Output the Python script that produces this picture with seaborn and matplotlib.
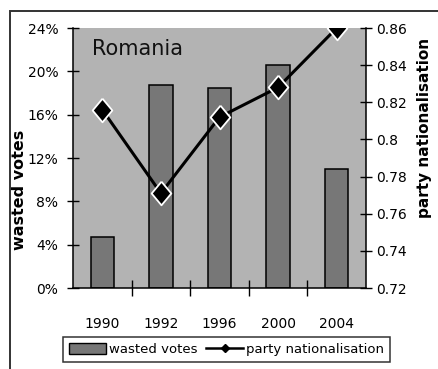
import numpy as np
import pandas as pd
import matplotlib
matplotlib.use("Agg")
import matplotlib.pyplot as plt
from matplotlib.patches import Patch, Rectangle
from matplotlib.lines import Line2D
import seaborn as sns

# Election years and the two indicators
years = ["1990", "1992", "1996", "2000", "2004"]
wasted_votes = [4.7, 18.7, 18.5, 20.6, 11.0]          # percent
party_nationalisation = [0.816, 0.771, 0.812, 0.828, 0.860]

left_ticks = [0, 4, 8, 12, 16, 20, 24]
right_ticks = [0.72, 0.74, 0.76, 0.78, 0.80, 0.82, 0.84, 0.86]

df = pd.DataFrame({"year": years,
                   "wasted": wasted_votes,
                   "nat": party_nationalisation})
df["pos"] = np.arange(len(df))

plot_bg = "#b3b3b3"
bar_color = "#777777"

W, H = 439, 369
fig = plt.figure(figsize=(W / 100, H / 100), dpi=100)
fig.patch.set_facecolor("white")

ax = fig.add_axes([73 / W, 1 - 288 / H, 293 / W, 260 / H])
ax.set_facecolor(plot_bg)

sns.barplot(data=df, x="year", y="wasted", ax=ax, color=bar_color,
            saturation=1, width=0.4, edgecolor="black", linewidth=1.1)
ax.set_xlim(-0.5, len(years) - 0.5)
ax.set_ylim(left_ticks[0], left_ticks[-1])
ax.set_yticks(left_ticks, labels=[f"{v}%" for v in left_ticks])
ax.set_xlabel("")
ax.set_ylabel("")

# category labels sit between the boundary ticks
ax.set_xticks(np.arange(len(years) - 1) + 0.5, labels=[])
ax.set_xticks(np.arange(len(years)), labels=years, minor=True)
ax.tick_params(axis="x", which="major", direction="inout", length=11,
               width=1, color="black")
ax.tick_params(axis="x", which="minor", length=0, pad=21, labelsize=10)
ax.tick_params(axis="y", direction="inout", length=9, width=1,
               pad=6, labelsize=10)

for side in ["left", "bottom"]:
    ax.spines[side].set_color("black")
    ax.spines[side].set_linewidth(1.1)
ax.spines["top"].set_visible(False)
ax.spines["right"].set_visible(False)

ax2 = ax.twinx()
diamond = [(0, 1.2), (1, 0), (0, -1.2), (-1, 0), (0, 1.2)]
sns.lineplot(data=df, x="pos", y="nat", ax=ax2, color="black",
             linewidth=2.2, marker=diamond, markersize=17,
             markerfacecolor="black", markeredgecolor="white",
             markeredgewidth=1.3, sort=False)
ax2.set_xlim(-0.5, len(years) - 0.5)
ax2.set_ylim(right_ticks[0], right_ticks[-1])
ax2.set_yticks(right_ticks, labels=[f"{v:g}" for v in right_ticks])
ax2.set_xlabel("")
ax2.set_ylabel("")
ax2.tick_params(axis="y", direction="inout", length=8, width=1,
                pad=3, labelsize=10)
ax2.spines["top"].set_visible(False)
ax2.spines["left"].set_visible(False)
ax2.spines["bottom"].set_visible(False)
ax2.spines["right"].set_color("black")
ax2.spines["right"].set_linewidth(1.1)

ax.text(0.065, 0.896, "Romania", transform=ax.transAxes, fontsize=15,
        ha="left", va="baseline", color="#111111")

fig.text(20 / W, 1 - 190 / H, "wasted votes", rotation=90, ha="center",
         va="center", fontsize=11.5, fontweight="bold")
fig.text(425 / W, 1 - 128 / H, "party nationalisation", rotation=90,
         ha="center", va="center", fontsize=11, fontweight="bold")

handles = [Patch(facecolor=bar_color, edgecolor="black", linewidth=1),
           Line2D([], [], color="black", linewidth=1.8, marker="D",
                  markersize=4)]
leg = fig.legend(handles, ["wasted votes", "party nationalisation"],
                 loc="upper left", bbox_to_anchor=(63 / W, 1 - 337 / H),
                 ncol=2, fontsize=9.5, frameon=True, fancybox=False,
                 handlelength=2.8, handleheight=0.9, handletextpad=0.2,
                 columnspacing=0.7, borderpad=0.45, borderaxespad=0)
leg.get_frame().set_edgecolor("black")
leg.get_frame().set_linewidth(1.1)

# chart-area frame, running off the right and bottom edges
fig.patches.append(Rectangle((10 / W, -0.1), 1.2, 1.1 - 11 / H,
                             transform=fig.transFigure, fill=False,
                             edgecolor="#333333", linewidth=1.4))

fig.savefig("out.png", dpi=100)
